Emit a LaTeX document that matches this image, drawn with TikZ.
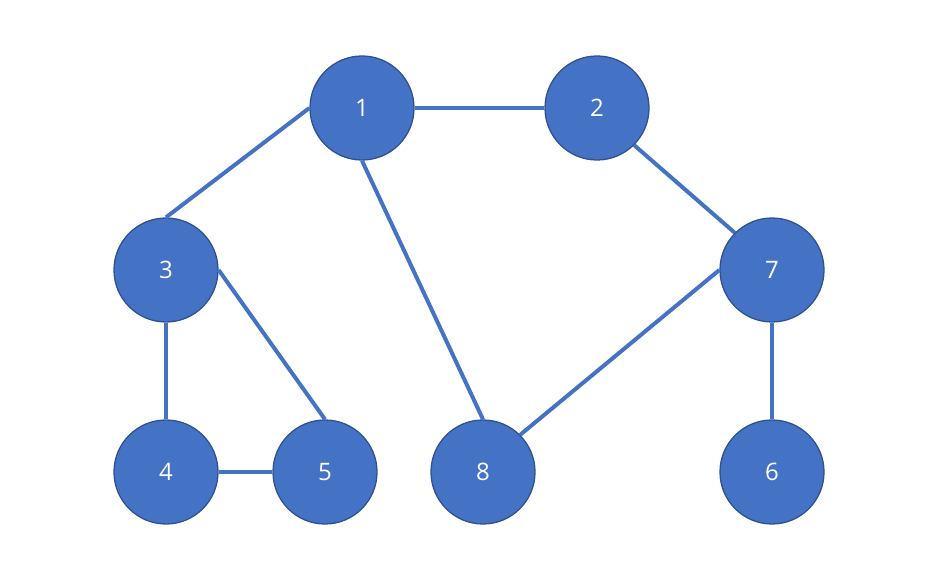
\documentclass[tikz,border=0pt]{standalone}
\usepackage{fontspec}
\setmainfont{Open Sans}
\usepackage{tikz}
\usepackage{xcolor}

\definecolor{nodeblue}{HTML}{4472C4}
\definecolor{rimblue}{HTML}{2F528F}

\begin{document}
\begin{tikzpicture}[x=0.03cm, y=-0.03cm,
        vertex/.style={circle, fill=nodeblue, draw=rimblue, line width=1.1pt,
            minimum size=3.12cm, inner sep=0pt, text=white,
            font=\fontsize{20.5}{24}\selectfont},
        link/.style={draw=nodeblue, line width=3.4pt}]
        \useasboundingbox (0,0) rectangle (928,571);

        % vertices
        \node[vertex] (n1) at (362, 108) {1};
        \node[vertex] (n2) at (597, 108) {2};
        \node[vertex] (n3) at (166, 270) {3};
        \node[vertex] (n7) at (772, 270) {7};
        \node[vertex] (n4) at (166, 472) {4};
        \node[vertex] (n5) at (325, 472) {5};
        \node[vertex] (n8) at (483, 472) {8};
        \node[vertex] (n6) at (772, 472) {6};

        % edges
        \draw[link] (n1.west) -- (n3.north);
        \draw[link] (n1.east) -- (n2.west);
        \draw[link] (n1.south) -- (n8.north);
        \draw[link] (n2.south east) -- (n7.north west);
        \draw[link] (n3.east) -- (n5.north);
        \draw[link] (n3.south) -- (n4.north);
        \draw[link] (n4.east) -- (n5.west);
        \draw[link] (n7.west) -- (n8.north east);
        \draw[link] (n7.south) -- (n6.north);
    \end{tikzpicture}
\end{document}
